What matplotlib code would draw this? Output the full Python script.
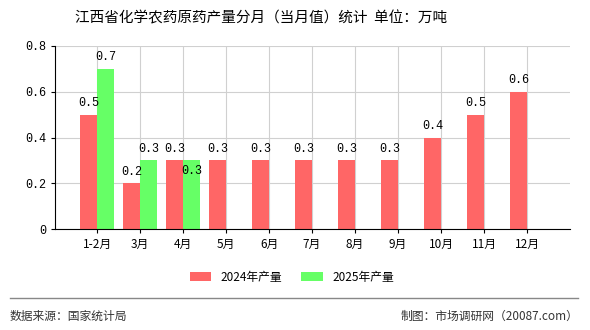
import numpy as np
import matplotlib.pyplot as plt

plt.rcParams['font.family'] = ['Noto Sans CJK SC', 'DejaVu Sans']

months = ['1-2月', '3月', '4月', '5月', '6月', '7月', '8月', '9月', '10月', '11月', '12月']
output_2024 = [0.5, 0.2, 0.3, 0.3, 0.3, 0.3, 0.3, 0.3, 0.4, 0.5, 0.6]
output_2025 = [0.7, 0.3, 0.3]

red = '#FF6666'
green = '#66FF66'
mono = ['Liberation Mono', 'DejaVu Sans Mono']

fig = plt.figure(figsize=(5.9, 3.3), dpi=100)
ax = fig.add_axes([55 / 590, 1 - 229 / 330, 515 / 590, 183 / 330])

x = np.arange(len(months))
w = 0.4
b1 = ax.bar(x[:len(output_2024)] - w / 2, output_2024, w, color=red, zorder=2)
b2 = ax.bar(x[:len(output_2025)] + w / 2, output_2025, w, color=green, zorder=2)

# value labels above each bar
for xi, v in zip(x, output_2024):
    ax.annotate(f'{v:g}', (xi - w / 2, v), xytext=(0, 4), textcoords='offset points',
                ha='center', va='bottom', fontsize=8.5, family=mono)
for i, (xi, v) in enumerate(zip(x, output_2025)):
    # the last label would collide with the neighbour, so push it inside the bar
    dy = -3 if i == 2 else 4
    va = 'top' if i == 2 else 'bottom'
    ax.annotate(f'{v:g}', (xi + w / 2, v), xytext=(0, dy), textcoords='offset points',
                ha='center', va=va, fontsize=8.5, family=mono)

ax.set_xlim(-0.98, len(months))
ax.set_ylim(0, 0.8)
ax.set_yticks([0, 0.2, 0.4, 0.6, 0.8])
ax.set_yticklabels(['0', '0.2', '0.4', '0.6', '0.8'], family=mono)
ax.set_xticks(x)
ax.set_xticklabels(months)
ax.tick_params(labelsize=8.5, length=3, color='black')
ax.grid(True, color='#D0D0D0', linewidth=0.8, zorder=0)
ax.set_axisbelow(True)
for s in ['top', 'right']:
    ax.spines[s].set_visible(False)

fig.text(261 / 590, 1 - 18 / 330, '江西省化学农药原药产量分月（当月值）统计  单位：万吨',
         ha='center', va='center', fontsize=10.5)

fig.legend([b1, b2], ['2024年产量', '2025年产量'], loc='center', bbox_to_anchor=(292 / 590, 1 - 277 / 330),
           ncol=2, frameon=False, fontsize=8.5, handlelength=1.8, handleheight=0.8, columnspacing=1.6)

fig.add_artist(plt.Line2D([10 / 590, 578 / 590], [1 - 298 / 330, 1 - 298 / 330],
                          color='#888888', linewidth=1))
fig.text(10 / 590, 1 - 316 / 330, '数据来源：国家统计局', ha='left', va='center', fontsize=8.5, color='#333333')
fig.text(578 / 590, 1 - 316 / 330, '制图：市场调研网（20087.com）', ha='right', va='center',
         fontsize=8.5, color='#333333')

fig.savefig('out.png', dpi=100)
